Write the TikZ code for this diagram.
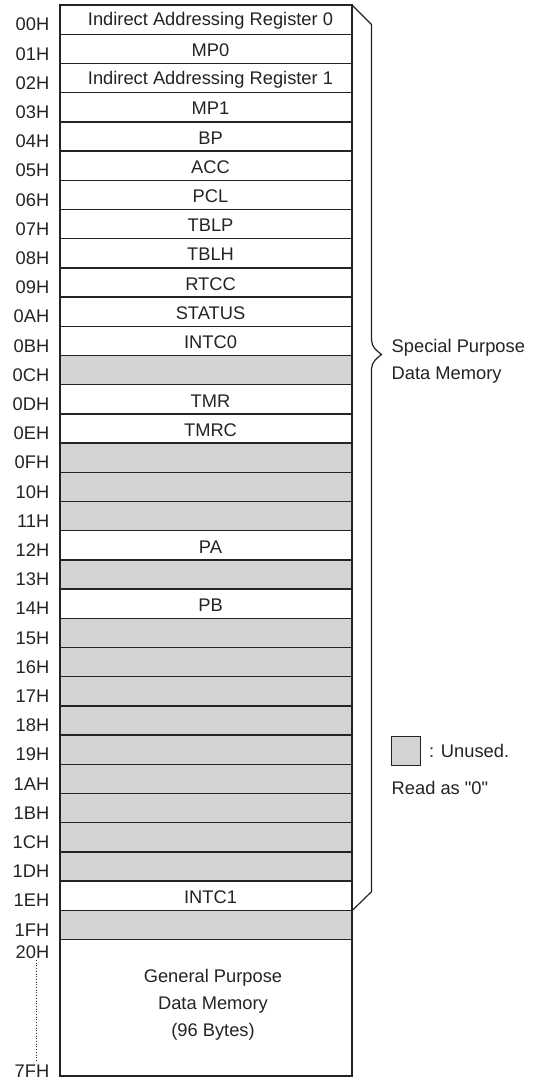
\documentclass[tikz,border=0pt]{standalone}
\usepackage{fontspec}
\setmainfont{Liberation Sans}
\newfontfamily\plainquotes{Liberation Sans}[Ligatures=ResetAll]
\usepackage{tikz}
\usetikzlibrary{positioning}
\definecolor{unused}{RGB}{211,211,211}
\definecolor{ink}{RGB}{35,35,35}

\begin{document}
\begin{tikzpicture}[x=1pt,y=-1pt,font=\fontsize{18.3}{27}\selectfont,line width=1.4pt,draw=ink,text=ink]
        \def\rowH{29.2}
        \def\xL{60}
        \def\xR{352}
        \def\xT{5}
        \useasboundingbox (0,0) rectangle (533,1079);

        % unused cells
        \foreach \i in {12,15,16,17,19,21,22,23,24,25,26,27,28,29,31}
            \fill[unused] (\xL,{\xT+\i*\rowH}) rectangle (\xR,{\xT+(\i+1)*\rowH});

        \foreach \i in {1,...,32}
            \draw[ink] (\xL,{\xT+\i*\rowH}) -- (\xR,{\xT+\i*\rowH});
        \draw[ink] (\xL,\xT) rectangle (\xR,1076);

        \foreach \txt [count=\i from 0] in {Indirect Addressing Register 0,MP0,Indirect Addressing Register 1,MP1,BP,ACC,PCL,TBLP,TBLH,RTCC,STATUS,INTC0,{},TMR,TMRC,{},{},{},PA,{},PB,{},{},{},{},{},{},{},{},{},INTC1,{}}
            \node (r\i) at (210.5,{\xT+(\i+0.5)*\rowH+1.5}) {\txt};

        \foreach \lab [count=\i from 0] in {00H,01H,02H,03H,04H,05H,06H,07H,08H,09H,0AH,0BH,0CH,0DH,0EH,0FH,10H,11H,12H,13H,14H,15H,16H,17H,18H,19H,1AH,1BH,1CH,1DH,1EH,1FH}
            \node[anchor=east,inner sep=0pt] (a\i) at (50,{\xT+(\i+0.5)*\rowH+5}) {\lab};

        \node[anchor=east,inner sep=0pt] (a20) at (50,952) {20H};
        \node[anchor=east,inner sep=0pt] (a7f) at (50,1071) {7FH};
        \coordinate (dtop) at (36.7,960);
        \coordinate (dbot) at (36.7,1062);
        \draw[ink,dotted,line width=0.7pt] (dtop) -- (dbot);

        \node[align=center] (gp) at (213,1005) {General Purpose\\Data Memory\\(96 Bytes)};

        % brace round the special registers
        \draw[ink,line width=1.2pt] (\xR,\xT) -- (371.5,24.5) -- (371.5,340)
            .. controls (371.5,347) and (377,351) .. (381.5,354.5)
            .. controls (377,358) and (371.5,362) .. (371.5,369)
            -- (371.5,891.7) -- (\xR,910.7);
        \node[anchor=west,align=left,inner sep=0pt] (spdm) at (391,361) {Special Purpose\\Data Memory};

        \node[draw=ink,fill=unused,minimum size=29pt,inner sep=0pt,anchor=north west] (key) at (391,736) {};
        \node[right=7pt of key,inner sep=0pt] (keytxt) {: Unused.};
        \node[anchor=west,inner sep=0pt,font=\plainquotes\fontsize{18.3}{27}\selectfont] (rd) at (391,788) {Read as "0"};

    \end{tikzpicture}
\end{document}
